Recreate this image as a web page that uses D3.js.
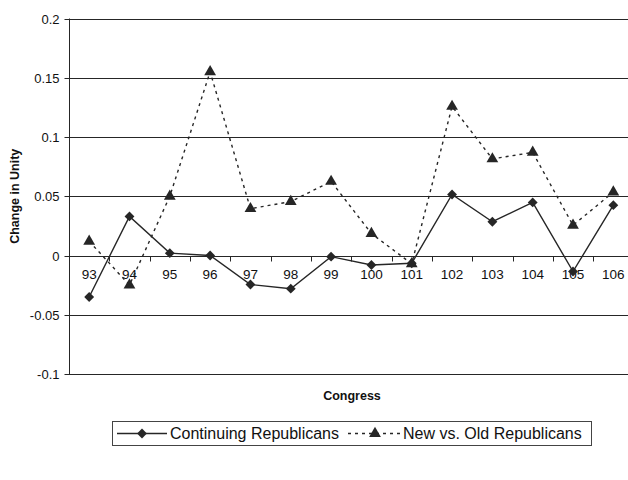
<!DOCTYPE html>
<html>
<head>
<meta charset="utf-8">
<script src="https://cdn.jsdelivr.net/npm/d3@7"></script>
<style>
  html, body { margin: 0; padding: 0; background: #fff; }
  svg { display: block; font-family: "Liberation Sans", Arial, sans-serif; }
</style>
</head>
<body>
<svg id="chart" width="628" height="480"></svg>
<script>
// Congress numbers on the category axis
const congresses = ["93","94","95","96","97","98","99","100","101","102","103","104","105","106"];
// Change in party unity, by congress
const continuingRepublicans = [-0.035, 0.033, 0.002, 0.000, -0.0245, -0.028, -0.001, -0.008, -0.0065, 0.0515, 0.0285, 0.0448, -0.0135, 0.0425];
const newVsOldRepublicans  = [0.012, -0.025, 0.050, 0.155, 0.0395, 0.0455, 0.0625, 0.0185, -0.007, 0.1258, 0.0815, 0.087, 0.0255, 0.0535];
const yTicks = [-0.1, -0.05, 0, 0.05, 0.1, 0.15, 0.2];
const seriesNames = ["Continuing Republicans", "New vs. Old Republicans"];

const svg = d3.select("#chart");
const plot = { left: 69, right: 633.5, top: 18.5, bottom: 374 };
const ink = "#262626";

const x = d3.scaleBand().domain(congresses).range([plot.left, plot.right]).padding(0);
const y = d3.scaleLinear().domain([-0.1, 0.2]).range([plot.bottom, plot.top]);
const fmt = d => (d === 0 ? "0" : String(+d.toFixed(2)));

// horizontal gridlines
svg.append("g")
  .selectAll("line")
  .data(yTicks.filter(t => t !== 0))
  .join("line")
  .attr("x1", plot.left).attr("x2", plot.right)
  .attr("y1", d => Math.round(y(d)) + 0.5).attr("y2", d => Math.round(y(d)) + 0.5)
  .attr("stroke", ink).attr("stroke-width", 1);

// value axis on the left
const yAxis = d3.axisLeft(y).tickValues(yTicks).tickFormat(fmt).tickSize(5).tickPadding(5);
const gy = svg.append("g")
  .attr("transform", `translate(${plot.left + 0.5},0)`)
  .call(yAxis);
gy.select(".domain").attr("stroke", ink).attr("d", `M0,${y(0.2)}V${y(-0.1)}`);
gy.selectAll(".tick line").attr("stroke", ink);
gy.selectAll(".tick").attr("transform", d => `translate(0,${Math.round(y(d)) + 0.5})`);
gy.selectAll(".tick text").attr("font-size", 13).attr("fill", "#111")
  .attr("font-family", "Liberation Sans, Arial, sans-serif");

// category axis crossing at zero, ticks between categories
const zeroY = Math.round(y(0)) + 0.5;
const gx = svg.append("g");
gx.append("line")
  .attr("x1", plot.left).attr("x2", plot.right)
  .attr("y1", zeroY).attr("y2", zeroY)
  .attr("stroke", ink);
const boundaries = congresses.map(c => x(c)).concat([plot.right]).slice(1);
gx.selectAll("line.tick")
  .data(boundaries)
  .join("line")
  .attr("class", "tick")
  .attr("x1", d => Math.round(d) + 0.5).attr("x2", d => Math.round(d) + 0.5)
  .attr("y1", zeroY).attr("y2", zeroY + 5)
  .attr("stroke", ink);
gx.selectAll("text")
  .data(congresses)
  .join("text")
  .attr("x", d => x(d) + x.bandwidth() / 2)
  .attr("y", zeroY + 22)
  .attr("text-anchor", "middle")
  .attr("font-size", 13.5)
  .attr("fill", "#111")
  .text(d => d);

// axis titles
svg.append("text")
  .attr("transform", `translate(19,${(plot.top + plot.bottom) / 2}) rotate(-90)`)
  .attr("text-anchor", "middle")
  .attr("font-size", 12.5).attr("font-weight", "bold").attr("fill", "#111")
  .text("Change in Unity");
svg.append("text")
  .attr("x", 352).attr("y", 400)
  .attr("text-anchor", "middle")
  .attr("font-size", 12.5).attr("font-weight", "bold").attr("fill", "#111")
  .text("Congress");

// series
const line = d3.line()
  .x((d, i) => x(congresses[i]) + x.bandwidth() / 2)
  .y(d => y(d));
const diamond = d3.symbol().type(d3.symbolDiamond2).size(62);
const triangle = d3.symbol().type(d3.symbolTriangle).size(60);

svg.append("path")
  .datum(newVsOldRepublicans)
  .attr("d", line)
  .attr("fill", "none").attr("stroke", ink).attr("stroke-width", 1.4)
  .attr("stroke-dasharray", "3,4");
svg.append("path")
  .datum(continuingRepublicans)
  .attr("d", line)
  .attr("fill", "none").attr("stroke", ink).attr("stroke-width", 1.4);

svg.append("g").selectAll("path")
  .data(newVsOldRepublicans)
  .join("path")
  .attr("transform", (d, i) => `translate(${x(congresses[i]) + x.bandwidth() / 2},${y(d)})`)
  .attr("d", triangle).attr("fill", ink);
svg.append("g").selectAll("path")
  .data(continuingRepublicans)
  .join("path")
  .attr("transform", (d, i) => `translate(${x(congresses[i]) + x.bandwidth() / 2},${y(d)})`)
  .attr("d", diamond).attr("fill", ink);

// legend
const legend = svg.append("g");
legend.append("rect")
  .attr("x", 112.5).attr("y", 421.5).attr("width", 479).attr("height", 24)
  .attr("fill", "#fff").attr("stroke", "#444").attr("stroke-width", 1);
const ly = 433.5;
legend.append("line")
  .attr("x1", 117).attr("x2", 167).attr("y1", ly).attr("y2", ly)
  .attr("stroke", ink).attr("stroke-width", 1.4);
legend.append("path")
  .attr("transform", `translate(142,${ly})`).attr("d", diamond).attr("fill", ink);
legend.append("text")
  .attr("x", 170).attr("y", ly + 5.5).attr("font-size", 16).attr("fill", "#111")
  .text(seriesNames[0]);
legend.append("line")
  .attr("x1", 348).attr("x2", 402).attr("y1", ly).attr("y2", ly)
  .attr("stroke", ink).attr("stroke-width", 1.4).attr("stroke-dasharray", "3,4");
legend.append("path")
  .attr("transform", `translate(375,${ly})`).attr("d", triangle).attr("fill", ink);
legend.append("text")
  .attr("x", 403).attr("y", ly + 5.5).attr("font-size", 16).attr("fill", "#111")
  .text(seriesNames[1]);
</script>
</body>
</html>
